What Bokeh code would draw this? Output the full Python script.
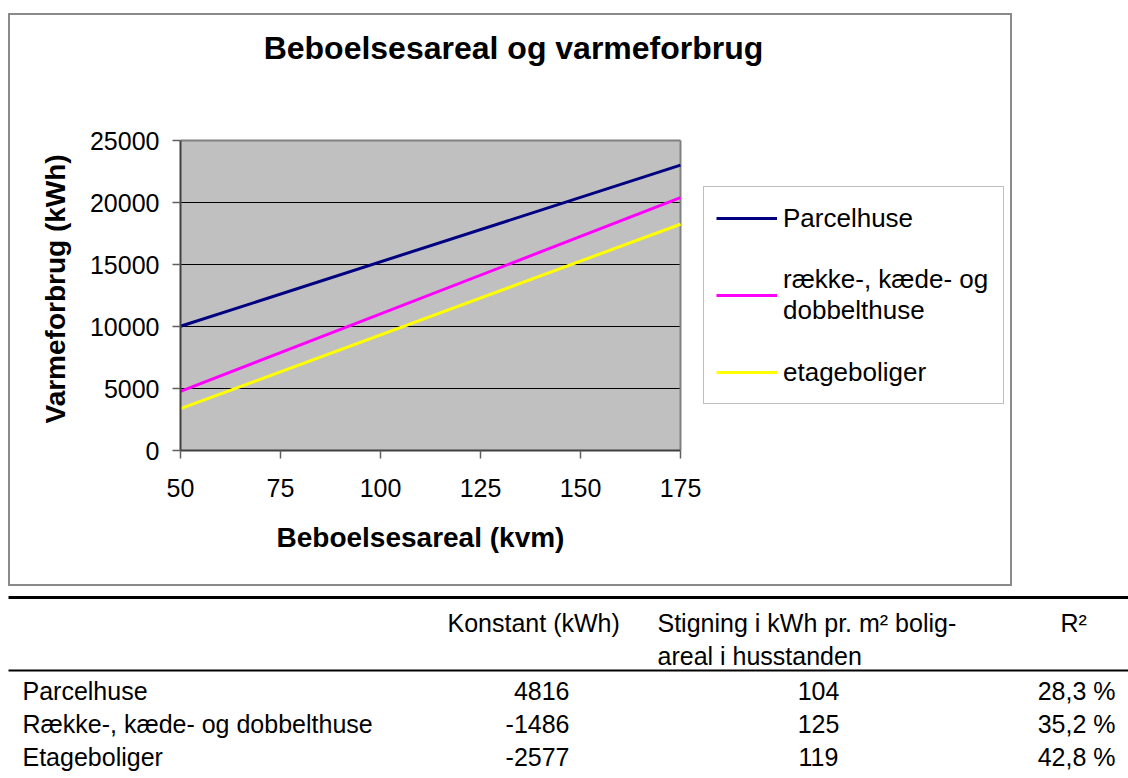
from bokeh.plotting import figure
from bokeh.models import Range1d, FixedTicker, Legend, LegendItem, Label, Title
from bokeh.embed import file_html
from bokeh.resources import INLINE
from bokeh.core.properties import value

# ---------------- data ----------------
areal = [50, 175]                      # Beboelsesareal (kvm)
parcelhuse = [10016, 23016]            # kWh
raekke = [4764, 20389]                 # kWh
etage = [3373, 18248]                  # kWh
series_names = ["Parcelhuse", "række-, kæde- og\ndobbelthuse", "etageboliger"]
series_colors = ["#000080", "#FF00FF", "#FFFF00"]
x_ticks = [50, 75, 100, 125, 150, 175]
y_ticks = [0, 5000, 10000, 15000, 20000, 25000]

table_header = ["Konstant (kWh)", "Stigning i kWh pr. m² bolig-\nareal i husstanden", "R²"]
table_rows = ["Parcelhuse", "Række-, kæde- og dobbelthuse", "Etageboliger"]
konstant = [4816, -1486, -2577]
stigning = [104, 125, 119]
r2 = ["28,3 %", "35,2 %", "42,8 %"]

FONT = "Liberation Sans"

# ---------------- layout geometry (page pixels) ----------------
FIG_W, FIG_H = 1004, 573
CANVAS_L, CANVAS_T = 10, 15
CANVAS_R, CANVAS_B = CANVAS_L + FIG_W, CANVAS_T + FIG_H
PLOT_L, PLOT_R, PLOT_T, PLOT_B = 180, 680, 140, 450   # grey plot area
x0, x1 = x_ticks[0], x_ticks[-1]
y0, y1 = y_ticks[0], y_ticks[-1]
# the frame spans from PLOT_L to the canvas right and from the canvas top to PLOT_B;
# the data ranges are extended so that the grey area sits where it should
x_end = x0 + (x1 - x0) * (CANVAS_R - PLOT_L) / (PLOT_R - PLOT_L)
y_end = y0 + (y1 - y0) * (PLOT_B - CANVAS_T) / (PLOT_B - PLOT_T)

p = figure(width=FIG_W, height=FIG_H,
           x_range=Range1d(x0, x_end), y_range=Range1d(y0, y_end),
           output_backend="svg", toolbar_location=None,
           min_border_left=PLOT_L - CANVAS_L, min_border_right=0,
           min_border_top=0, min_border_bottom=CANVAS_B - PLOT_B,
           margin=(13, 0, 0, 8),
           styles={"border": "2px solid #8a8a8a"})
p.background_fill_color = "white"
p.border_fill_color = "white"
p.outline_line_color = None
p.grid.visible = False

# grey plot area, grid lines and its border
p.quad(left=[x0], right=[x1], bottom=[y0], top=[y1], fill_color="#C0C0C0", line_color=None)
p.segment(x0=[x0] * (len(y_ticks) - 2), x1=[x1] * (len(y_ticks) - 2),
          y0=y_ticks[1:-1], y1=y_ticks[1:-1], line_color="black", line_width=1)
p.segment(x0=[x0, x1], y0=[y1, y0], x1=[x1, x1], y1=[y1, y1], line_color="#808080", line_width=2)

# axes
p.xaxis.ticker = FixedTicker(ticks=x_ticks)
p.yaxis.ticker = FixedTicker(ticks=y_ticks)
p.xaxis.bounds = (x0, x1)
p.yaxis.bounds = (y0, y1)
for ax in (p.xaxis[0], p.yaxis[0]):
    ax.axis_line_color = "#404040"
    ax.axis_line_width = 2
    ax.major_tick_line_color = "#606060"
    ax.major_tick_line_width = 1.5
    ax.major_tick_out = 8
    ax.major_tick_in = 0
    ax.minor_tick_line_color = None
    ax.major_label_text_font = FONT
    ax.major_label_text_font_size = "25px"
    ax.major_label_text_color = "black"
p.yaxis.major_label_standoff = 13
p.xaxis.major_label_standoff = 20

ttl_kw = dict(text_font=FONT, text_font_size="28px", text_font_style="bold", text_color="black")
p.add_layout(Title(text="Varmeforbrug (kWh)", align="left", offset=27, standoff=32,
                   vertical_align="bottom", **ttl_kw), "left")
p.add_layout(Title(text="Beboelsesareal (kvm)", align="left", offset=96, standoff=44,
                   vertical_align="top", **ttl_kw), "below")

# chart title (inside the extended frame)
p.add_layout(Label(x=513 - PLOT_L, y=PLOT_B - 47, x_units="screen", y_units="screen",
                   text="Beboelsesareal og varmeforbrug", text_align="center",
                   text_baseline="middle", text_font=FONT, text_font_size="32px",
                   text_font_style="bold", text_color="black"))

# series
renderers = []
for ys, col in zip([parcelhuse, raekke, etage], series_colors):
    renderers.append(p.line(areal, ys, line_color=col, line_width=3))

legend = Legend(items=[LegendItem(label=n, renderers=[r]) for n, r in zip(series_names, renderers)],
                location=(703 - PLOT_L, PLOT_B - 404), orientation="vertical",
                margin=0, padding=12, spacing=27,
                glyph_width=61, glyph_height=38, label_height=38,
                label_width=208, label_standoff=6,
                label_text_font=FONT, label_text_font_size="26px", label_text_color="black",
                label_text_line_height=1.15,
                border_line_color="#808080", border_line_width=1.5,
                background_fill_color="white", background_fill_alpha=1.0)
p.add_layout(legend, "center")

# ---------------- table ----------------
t = figure(width=1128, height=190, x_range=Range1d(0, 1128), y_range=Range1d(776, 586),
           output_backend="svg", toolbar_location=None, min_border=0,
           x_axis_location=None, y_axis_location=None)
t.grid.visible = False
t.outline_line_color = None
t.background_fill_color = "white"
t.border_fill_color = "white"

t.segment(x0=[8], y0=[597], x1=[1128], y1=[597], line_color="black", line_width=3)
t.segment(x0=[8], y0=[670], x1=[1128], y1=[670], line_color="black", line_width=2)

kw = dict(text_font=value(FONT), text_font_size="25px", text_color="black",
          text_baseline="middle")
t.text(x=[447], y=[622], text=[table_header[0]], text_align="left", **kw)
st1, st2 = table_header[1].split("\n")
t.text(x=[657, 657], y=[622, 655], text=[st1, st2], text_align="left", **kw)
t.text(x=[1060], y=[622], text=[table_header[2]], text_align="left", **kw)

row_y = [690, 723, 756]
t.text(x=[22] * 3, y=row_y, text=table_rows, text_align="left", **kw)
t.text(x=[569] * 3, y=row_y, text=[str(v) for v in konstant], text_align="right", **kw)
t.text(x=[818] * 3, y=row_y, text=[str(v) for v in stigning], text_align="center", **kw)
t.text(x=[1115] * 3, y=row_y, text=r2, text_align="right", **kw)

open("out.html", "w").write(file_html([p, t], INLINE))
